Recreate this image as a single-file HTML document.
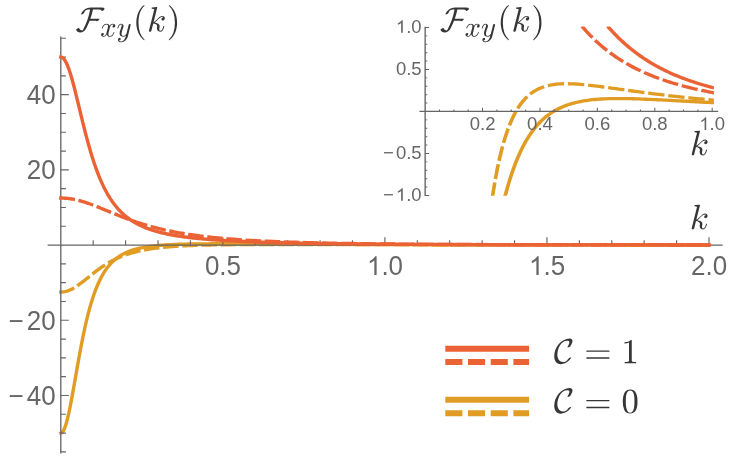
<!DOCTYPE html>
<html><head><meta charset="utf-8"><title>Berry curvature plot</title>
<style>
html,body{margin:0;padding:0;background:#fff;}
body{width:746px;height:464px;overflow:hidden;font-family:"Liberation Sans",sans-serif;}
svg{display:block;filter:blur(0.45px);}
</style></head><body>
<svg width="746" height="464" viewBox="0 0 746 464">
<rect width="746" height="464" fill="#fff"/>
<defs>
<path id="g0" d="M763 0H583V1147Q518 1085 412.5 1023T223 930V1104Q374 1175 487 1276T647 1472H763Z"/>
<path id="g1" d="M35 92Q35 128 93 162Q151 197 190 201H203Q210 197 236 154Q263 110 302 82Q340 53 410 53Q424 71 434 88Q581 360 684 643Q740 797 784 962Q829 1126 854 1278H768Q564 1278 510 1087Q490 1051 444 1024Q399 997 356 993H344Q330 1002 330 1014Q361 1123 452 1211Q544 1299 665 1349Q786 1399 899 1399H1499Q1698 1399 1698 1321Q1698 1276 1644 1240Q1590 1203 1538 1198H1528Q1513 1206 1513 1210Q1514 1216 1515 1223Q1516 1230 1516 1233Q1516 1278 1346 1278H1022Q964 991 872 737H1389Q1403 730 1403 719Q1390 670 1342 636Q1294 601 1241 596H1229Q1214 604 1214 612V616H827Q737 386 614 158Q563 67 469 -0Q375 -68 281 -68H270Q190 -68 126 -26Q62 17 35 92Z"/>
<path id="g2" d="M160 59Q196 31 262 31Q326 31 375 92Q424 154 442 227L535 590Q557 689 557 725Q557 776 528 814Q500 852 449 852Q384 852 327 812Q270 771 231 708Q192 646 176 582Q172 569 160 569H135Q119 569 119 588V594Q139 670 187 742Q235 815 304 860Q374 905 453 905Q528 905 588 865Q649 825 674 756Q709 819 764 862Q818 905 883 905Q927 905 973 890Q1019 874 1048 842Q1077 810 1077 762Q1077 710 1044 672Q1010 635 958 635Q925 635 903 656Q881 677 881 709Q881 752 910 784Q940 817 981 823Q944 852 879 852Q813 852 764 791Q716 730 696 655L606 293Q584 211 584 158Q584 106 614 68Q643 31 692 31Q788 31 864 116Q939 200 963 301Q967 313 979 313H1004Q1012 313 1017 308Q1022 302 1022 295Q1022 293 1020 289Q991 167 898 72Q805 -23 688 -23Q613 -23 552 18Q492 58 467 127Q435 67 378 22Q322 -23 258 -23Q214 -23 168 -8Q121 8 92 40Q63 72 63 121Q63 169 96 208Q130 248 180 248Q214 248 237 228Q260 207 260 174Q260 131 232 99Q203 67 160 59Z"/>
<path id="g3" d="M172 -293Q215 -367 322 -367Q419 -367 490 -299Q561 -231 604 -134Q648 -38 672 63Q581 -23 475 -23Q394 -23 337 5Q280 33 248 88Q217 144 217 223Q217 290 235 360Q253 431 286 518Q318 604 342 668Q369 743 369 791Q369 852 324 852Q243 852 190 768Q138 685 113 582Q109 569 96 569H72Q55 569 55 588V594Q88 716 156 810Q224 905 328 905Q401 905 452 857Q502 809 502 735Q502 697 485 655Q476 630 444 546Q412 462 395 407Q378 352 367 299Q356 246 356 193Q356 125 385 78Q414 31 477 31Q604 31 705 186L860 817Q867 844 892 864Q917 883 946 883Q971 883 990 867Q1008 851 1008 825Q1008 813 1006 809L803 -6Q776 -111 704 -207Q632 -303 530 -362Q429 -420 319 -420Q266 -420 214 -400Q162 -379 130 -338Q98 -297 98 -242Q98 -186 131 -145Q164 -104 219 -104Q252 -104 274 -124Q297 -145 297 -178Q297 -225 262 -260Q227 -295 180 -295Q178 -294 176 -294Q174 -293 172 -293Z"/>
<path id="g4" d="M635 -508Q521 -418 438 -302Q356 -185 304 -53Q251 79 225 223Q199 367 199 512Q199 659 225 803Q251 947 304 1080Q358 1213 441 1329Q524 1445 635 1532Q635 1536 645 1536H664Q670 1536 675 1530Q680 1525 680 1518Q680 1509 676 1505Q576 1407 510 1295Q443 1183 402 1056Q362 930 344 794Q326 659 326 512Q326 -139 674 -477Q680 -483 680 -494Q680 -499 674 -506Q669 -512 664 -512H645Q635 -512 635 -508Z"/>
<path id="g5" d="M109 37Q109 49 111 55L408 1239Q416 1274 418 1294Q418 1327 285 1327Q264 1327 264 1354Q265 1359 268 1372Q272 1385 278 1392Q283 1399 293 1399L569 1421H575Q575 1419 582 1416Q589 1412 590 1411Q594 1401 594 1395L379 539Q453 570 566 686Q678 803 742 854Q805 905 901 905Q958 905 998 866Q1038 827 1038 770Q1038 734 1023 704Q1008 673 981 654Q954 635 918 635Q885 635 862 656Q840 676 840 709Q840 758 874 792Q909 825 958 825Q938 852 897 852Q836 852 780 817Q723 782 658 716Q592 651 538 596Q484 542 438 514Q559 500 648 450Q737 401 737 299Q737 278 729 246Q711 169 711 123Q711 31 774 31Q848 31 886 112Q925 193 950 301Q954 313 967 313H991Q999 313 1004 308Q1010 303 1010 295Q1010 293 1008 289Q931 -23 770 -23Q712 -23 668 4Q623 31 599 78Q575 124 575 182Q575 215 584 250Q590 274 590 295Q590 374 520 415Q450 456 360 465L256 47Q248 16 225 -4Q202 -23 172 -23Q146 -23 128 -6Q109 12 109 37Z"/>
<path id="g6" d="M133 -512Q115 -512 115 -494Q115 -485 119 -481Q469 -139 469 512Q469 1163 123 1501Q115 1506 115 1518Q115 1525 120 1530Q126 1536 133 1536H152Q158 1536 162 1532Q309 1416 407 1250Q505 1084 550 896Q596 708 596 512Q596 367 572 226Q547 86 494 -50Q440 -187 358 -302Q276 -418 162 -508Q158 -512 152 -512Z"/>
<path id="g7" d="M403 -49Q306 -49 234 -12Q163 26 116 94Q68 161 46 242Q25 323 25 416Q25 599 92 786Q160 972 282 1120Q404 1269 572 1356Q739 1444 932 1444H944Q1011 1444 1052 1410Q1094 1376 1094 1311Q1094 1254 1061 1177Q1028 1100 981 1016Q959 979 914 952Q870 925 823 920H813Q799 927 799 934Q799 943 832 1007Q864 1071 888 1128Q911 1184 911 1225Q911 1275 880 1299Q848 1323 795 1323Q644 1323 542 1251Q439 1179 356 1038Q287 919 247 780Q207 642 207 504Q207 391 243 292Q279 192 357 132Q435 72 553 72Q677 72 774 164Q787 178 828 232Q868 285 903 310Q938 335 993 340H1004Q1018 333 1018 324Q1018 316 1012 307Q954 211 856 129Q758 47 641 -1Q524 -49 416 -49Z"/>
<path id="g8" d="M154 272Q137 272 126 285Q115 298 115 313Q115 330 126 342Q137 354 154 354H1440Q1455 354 1466 342Q1477 330 1477 313Q1477 298 1466 285Q1455 272 1440 272ZM154 670Q137 670 126 682Q115 694 115 711Q115 726 126 739Q137 752 154 752H1440Q1455 752 1466 739Q1477 726 1477 711Q1477 694 1466 682Q1455 670 1440 670Z"/>
<path id="g9" d="M190 0V72Q446 72 446 137V1212Q340 1161 178 1161V1233Q429 1233 557 1364H586Q593 1364 600 1358Q606 1353 606 1346V137Q606 72 862 72V0Z"/>
<path id="g10" d="M512 -45Q261 -45 170 162Q80 368 80 653Q80 831 112 988Q145 1145 242 1254Q338 1364 512 1364Q647 1364 733 1298Q819 1232 864 1128Q909 1023 926 904Q942 784 942 653Q942 477 910 324Q877 170 782 62Q687 -45 512 -45ZM512 8Q626 8 682 125Q738 242 751 384Q764 526 764 686Q764 840 751 970Q738 1100 682 1206Q627 1311 512 1311Q396 1311 340 1205Q284 1099 271 970Q258 840 258 686Q258 572 264 471Q269 370 293 262Q317 155 370 82Q424 8 512 8Z"/>
<clipPath id="ic"><rect x="400" y="26.5" width="287.65" height="169.3"/></clipPath>
</defs>
<g fill="none" stroke-width="3.4" stroke-linejoin="round">
<path d="M60.80 433.05L62.16 432.42L63.52 430.55L64.89 427.51L66.25 423.37L67.61 418.27L68.97 412.35L70.33 405.74L71.69 398.63L73.06 391.14L74.42 383.43L75.78 375.63L77.14 367.85L78.50 360.19L79.86 352.72L81.23 345.50L82.59 338.58L83.95 331.99L85.31 325.75L86.67 319.87L88.04 314.35L89.40 309.19L90.76 304.38L92.12 299.90L93.48 295.74L94.84 291.89L96.21 288.32L97.57 285.02L98.93 281.97L100.29 279.15L101.65 276.55L103.01 274.15L104.38 271.93L105.74 269.88L107.10 267.99L108.46 266.25L109.82 264.64L111.19 263.15L112.55 261.77L113.91 260.50L115.27 259.33L116.63 258.24L117.99 257.23L119.36 256.30L120.72 255.43L122.08 254.63L123.44 253.88L124.80 253.19L126.16 252.55L127.53 251.96L128.89 251.40L130.25 250.89L131.61 250.41L132.97 249.96L134.34 249.54L135.70 249.15L137.06 248.79L138.42 248.46L139.78 248.14L141.14 247.85L142.51 247.57L143.87 247.32L145.23 247.08L146.59 246.86L147.95 246.65L149.31 246.45L150.68 246.27L152.04 246.10L153.40 245.94L154.76 245.79L156.12 245.65L157.49 245.52L158.85 245.40L160.21 245.28L161.57 245.18L162.93 245.08L164.29 244.98L165.66 244.89L167.02 244.81L168.38 244.73L169.74 244.66L171.10 244.60L172.46 244.53L173.83 244.47L175.19 244.42L176.55 244.37L177.91 244.32L179.27 244.28L180.64 244.23L182.00 244.20L183.36 244.16L184.72 244.13L186.08 244.10L187.44 244.07L188.81 244.04L190.17 244.02L191.53 243.99L192.89 243.97L194.25 243.95L195.61 243.94L196.98 243.92L198.34 243.90L199.70 243.89L201.06 243.88L202.42 243.87L203.79 243.86L205.15 243.85L206.51 243.84L207.87 243.84L209.23 243.83L210.59 243.82L211.96 243.82L213.32 243.82L214.68 243.81L216.04 243.81L217.40 243.81L218.76 243.81L220.13 243.81L221.49 243.81L222.85 243.81L228.44 243.82L234.03 243.83L239.61 243.85L245.20 243.87L250.79 243.90L256.38 243.92L261.97 243.95L267.55 243.98L273.14 244.01L278.73 244.04L284.32 244.08L289.91 244.11L295.49 244.14L301.08 244.17L306.67 244.20L312.26 244.23L317.84 244.25L323.43 244.28L329.02 244.31L334.61 244.34L340.20 244.36L345.78 244.38L351.37 244.41L356.96 244.43L362.55 244.45L368.14 244.48L373.72 244.50L379.31 244.52L384.90 244.53L414.36 244.63L443.83 244.70L473.29 244.76L502.75 244.81L532.22 244.85L561.68 244.88L591.15 244.91L620.61 244.93L650.07 244.95L679.54 244.96L709.00 244.97" stroke="#E19C24" stroke-linecap="square"/>
<path d="M59.10 292.11L60.80 292.05L62.16 292.00L63.52 291.86L64.89 291.62L66.25 291.30L67.61 290.88L68.97 290.38L70.33 289.80L71.69 289.14L73.06 288.41L74.42 287.62L75.78 286.77L77.14 285.87L78.50 284.93L79.86 283.94L81.23 282.93L82.59 281.88L83.95 280.82L85.31 279.74L86.67 278.65L88.04 277.56L89.40 276.46L90.76 275.37L92.12 274.29L93.48 273.22L94.84 272.17L96.21 271.13L97.57 270.12L98.93 269.12L100.29 268.15L101.65 267.20L103.01 266.28L104.38 265.39L105.74 264.52L107.10 263.68L108.46 262.87L109.82 262.09L111.19 261.33L112.55 260.60L113.91 259.90L115.27 259.23L116.63 258.58L117.99 257.96L119.36 257.36L120.72 256.79L122.08 256.24L123.44 255.71L124.80 255.21L126.16 254.72L127.53 254.26L128.89 253.82L130.25 253.40L131.61 252.99L132.97 252.61L134.34 252.24L135.70 251.88L137.06 251.54L138.42 251.22L139.78 250.91L141.14 250.62L142.51 250.34L143.87 250.07L145.23 249.81L146.59 249.57L147.95 249.33L149.31 249.11L150.68 248.90L152.04 248.69L153.40 248.50L154.76 248.31L156.12 248.13L157.49 247.96L158.85 247.80L160.21 247.65L161.57 247.50L162.93 247.36L164.29 247.22L165.66 247.09L167.02 246.97L168.38 246.85L169.74 246.74L171.10 246.63L172.46 246.53L173.83 246.43L175.19 246.34L176.55 246.25L177.91 246.16L179.27 246.08L180.64 246.00L182.00 245.93L183.36 245.86L184.72 245.79L186.08 245.72L187.44 245.66L188.81 245.60L190.17 245.54L191.53 245.49L192.89 245.44L194.25 245.39L195.61 245.34L196.98 245.30L198.34 245.25L199.70 245.21L201.06 245.17L202.42 245.13L203.79 245.10L205.15 245.06L206.51 245.03L207.87 245.00L209.23 244.97L210.59 244.94L211.96 244.92L213.32 244.89L214.68 244.87L216.04 244.84L217.40 244.82L218.76 244.80L220.13 244.78L221.49 244.76L222.85 244.74L228.44 244.68L234.03 244.62L239.61 244.58L245.20 244.55L250.79 244.52L256.38 244.50L261.97 244.49L267.55 244.48L273.14 244.48L278.73 244.47L284.32 244.47L289.91 244.48L295.49 244.48L301.08 244.49L306.67 244.50L312.26 244.51L317.84 244.52L323.43 244.53L329.02 244.54L334.61 244.55L340.20 244.56L345.78 244.57L351.37 244.58L356.96 244.60L362.55 244.61L368.14 244.62L373.72 244.63L379.31 244.64L384.90 244.66L414.36 244.71L443.83 244.76L473.29 244.81L502.75 244.84L532.22 244.87L561.68 244.90L591.15 244.92L620.61 244.94L650.07 244.96L679.54 244.97L709.00 244.98" stroke="#E19C24" stroke-dasharray="17.05 3.6 15.6 3.6 15.6 3.6 15.6 3.6 15.6 3.6 15.6 3.6 15.6 3.6 15.6 3.6 15.6 3.6 15.6 3.6 15.6 3.6 15.6 3.6 15.6 3.6 15.6 3.6 15.6 3.6 15.6 3.6 15.6 3.6 15.6 3.6 15.6 3.6 15.6 3.6 15.6 3.6 15.6 3.6 15.6 3.6 15.6 3.6 15.6 3.6 15.6 3.6 15.6 3.6 15.6 3.6 15.6 3.6 15.6 3.6 15.6 3.6 15.6 3.6 15.6 3.6 15.6 3.6 15.6 3.6 15.6 3.6 15.6 3.6 15.6 3.6 15.6 3.6 15.6 3.6 15.6 3.6 15.6 3.6 15.6 3.6 15.6 3.6 15.6 3.6 15.6 3.6" stroke-dashoffset="1.1"/>
</g>
<g fill="none" stroke-width="3.3" stroke-linejoin="round" transform="translate(425.15 0) scale(1.1 1) translate(-425.15 0)">
<path d="M497.97 195.45L500.00 187.31L502.04 179.83L504.07 172.97L506.11 166.66L508.14 160.87L510.18 155.55L512.21 150.66L514.25 146.17L516.28 142.04L518.32 138.25L520.35 134.76L522.38 131.56L524.42 128.61L526.45 125.91L528.49 123.42L530.52 121.14L532.56 119.04L534.59 117.12L536.63 115.35L538.66 113.73L540.70 112.24L542.73 110.87L544.77 109.62L546.80 108.48L548.84 107.43L550.87 106.47L552.91 105.60L554.94 104.80L556.98 104.08L559.01 103.42L561.05 102.82L563.08 102.27L565.12 101.78L567.15 101.34L569.18 100.94L571.22 100.59L573.25 100.27L575.29 99.98L577.32 99.73L579.36 99.51L581.39 99.32L583.43 99.16L585.46 99.02L587.50 98.90L589.53 98.80L591.57 98.72L593.60 98.66L595.64 98.61L597.67 98.58L599.71 98.57L601.74 98.57L603.78 98.57L605.81 98.59L607.85 98.62L609.88 98.66L611.91 98.71L613.95 98.77L615.98 98.83L618.02 98.90L620.05 98.97L622.09 99.05L624.12 99.14L626.16 99.23L628.19 99.33L630.23 99.42L632.26 99.53L634.30 99.63L636.33 99.74L638.37 99.85L640.40 99.96L642.44 100.07L644.47 100.19L646.51 100.31L648.54 100.42L650.58 100.54L652.61 100.66L654.64 100.78L656.68 100.90L658.71 101.02L660.75 101.15L662.78 101.27L664.82 101.39L666.85 101.51L668.89 101.63L670.92 101.75L672.96 101.87L674.99 101.99L677.03 102.11L679.06 102.23L681.10 102.35L683.13 102.46L685.17 102.58L687.20 102.70L689.24 102.81" stroke="#E19C24" stroke-linecap="square" clip-path="url(#ic)"/>
<path d="M486.25 197.08L486.50 195.45L488.66 181.07L490.81 168.53L492.97 157.56L495.13 147.96L497.28 139.55L499.44 132.18L501.60 125.71L503.75 120.04L505.91 115.06L508.07 110.69L510.22 106.85L512.38 103.49L514.54 100.54L516.69 97.97L518.85 95.71L521.01 93.75L523.16 92.04L525.32 90.57L527.48 89.29L529.64 88.19L531.79 87.26L533.95 86.47L536.11 85.80L538.26 85.25L540.42 84.80L542.58 84.45L544.73 84.17L546.89 83.97L549.05 83.83L551.20 83.75L553.36 83.72L555.52 83.74L557.67 83.80L559.83 83.89L561.99 84.02L564.14 84.18L566.30 84.36L568.46 84.56L570.61 84.79L572.77 85.03L574.93 85.29L577.08 85.56L579.24 85.84L581.40 86.14L583.55 86.44L585.71 86.75L587.87 87.06L590.02 87.38L592.18 87.71L594.34 88.03L596.49 88.36L598.65 88.69L600.81 89.02L602.97 89.36L605.12 89.69L607.28 90.02L609.44 90.35L611.59 90.68L613.75 91.00L615.91 91.33L618.06 91.65L620.22 91.97L622.38 92.29L624.53 92.60L626.69 92.91L628.85 93.22L631.00 93.52L633.16 93.82L635.32 94.12L637.47 94.41L639.63 94.70L641.79 94.98L643.94 95.26L646.10 95.54L648.26 95.81L650.41 96.08L652.57 96.35L654.73 96.61L656.88 96.86L659.04 97.11L661.20 97.36L663.35 97.61L665.51 97.85L667.67 98.08L669.83 98.32L671.98 98.54L674.14 98.77L676.30 98.99L678.45 99.21L680.61 99.42L682.77 99.63L684.92 99.83L687.08 100.04L689.24 100.23" stroke="#E19C24" stroke-dasharray="14.9 3.5" stroke-dashoffset="0.05" clip-path="url(#ic)"/>
</g>
<g stroke="#666666" stroke-width="1.35" fill="none">
<path d="M47.6 245.05 H722.7"/>
<path d="M60.80 36.5 V453.6"/>
</g><g stroke="#666666" stroke-width="1.15" fill="none">
<path d="M93.21 245.05 v-4.90M125.62 245.05 v-4.90M158.03 245.05 v-4.90M190.44 245.05 v-4.90M222.85 245.05 v-7.90M255.26 245.05 v-4.90M287.67 245.05 v-4.90M320.08 245.05 v-4.90M352.49 245.05 v-4.90M384.90 245.05 v-7.90M417.31 245.05 v-4.90M449.72 245.05 v-4.90M482.13 245.05 v-4.90M514.54 245.05 v-4.90M546.95 245.05 v-7.90M579.36 245.05 v-4.90M611.77 245.05 v-4.90M644.18 245.05 v-4.90M676.59 245.05 v-4.90M709.00 245.05 v-7.90"/>
<path d="M60.80 451.85 h5.10M60.80 433.05 h5.10M60.80 414.25 h5.10M60.80 395.45 h8.00M60.80 376.65 h5.10M60.80 357.85 h5.10M60.80 339.05 h5.10M60.80 320.25 h8.00M60.80 301.45 h5.10M60.80 282.65 h5.10M60.80 263.85 h5.10M60.80 226.25 h5.10M60.80 207.45 h5.10M60.80 188.65 h5.10M60.80 169.85 h8.00M60.80 151.05 h5.10M60.80 132.25 h5.10M60.80 113.45 h5.10M60.80 94.65 h8.00M60.80 75.85 h5.10M60.80 57.05 h5.10M60.80 38.25 h5.10"/>
</g>
<g font-family="'Liberation Sans', sans-serif" fill="#666666">
<text transform="translate(204.88 274.95) scale(1.0000 1.0350)" font-size="26">0.5</text>
<use href="#g0" transform="translate(366.93 274.95) scale(0.01270 -0.01264)"/>
<text transform="translate(381.39 274.95) scale(1.0000 1.0350)" font-size="26">.0</text>
<use href="#g0" transform="translate(528.98 274.95) scale(0.01270 -0.01264)"/>
<text transform="translate(543.44 274.95) scale(1.0000 1.0350)" font-size="26">.5</text>
<text transform="translate(691.03 274.95) scale(1.0000 1.0350)" font-size="26">2.0</text>
<text transform="translate(26.70 104.00) scale(1.0000 1.0350)" font-size="26">40</text>
<text transform="translate(26.70 179.20) scale(1.0000 1.0350)" font-size="26">20</text>
<text transform="translate(8.72 329.60) scale(1.0000 1.0350)" font-size="26">−</text>
<text transform="translate(26.70 329.60) scale(1.0000 1.0350)" font-size="26">20</text>
<text transform="translate(8.72 404.80) scale(1.0000 1.0350)" font-size="26">−</text>
<text transform="translate(26.70 404.80) scale(1.0000 1.0350)" font-size="26">40</text>
</g>
<g stroke="#666666" stroke-width="1.25" fill="none" transform="translate(425.15 0) scale(1.1 1) translate(-425.15 0)">
<path d="M420.01 111.45 H691.56"/>
<path d="M425.15 26.85 V196.05"/>
</g><g stroke="#666666" stroke-width="0.95" fill="none" transform="translate(425.15 0) scale(1.1 1) translate(-425.15 0)">
<path d="M438.20 111.45 v-2.00M451.25 111.45 v-2.00M464.29 111.45 v-2.00M477.34 111.45 v-3.80M490.39 111.45 v-2.00M503.44 111.45 v-2.00M516.48 111.45 v-2.00M529.53 111.45 v-3.80M542.58 111.45 v-2.00M555.63 111.45 v-2.00M568.67 111.45 v-2.00M581.72 111.45 v-3.80M594.77 111.45 v-2.00M607.82 111.45 v-2.00M620.87 111.45 v-2.00M633.91 111.45 v-3.80M646.96 111.45 v-2.00M660.01 111.45 v-2.00M673.06 111.45 v-2.00M686.10 111.45 v-3.80"/>
<path d="M425.15 195.45 h3.60M425.15 187.05 h2.00M425.15 178.65 h2.00M425.15 170.25 h2.00M425.15 161.85 h2.00M425.15 153.45 h3.60M425.15 145.05 h2.00M425.15 136.65 h2.00M425.15 128.25 h2.00M425.15 119.85 h2.00M425.15 103.05 h2.00M425.15 94.65 h2.00M425.15 86.25 h2.00M425.15 77.85 h2.00M425.15 69.45 h3.60M425.15 61.05 h2.00M425.15 52.65 h2.00M425.15 44.25 h2.00M425.15 35.85 h2.00M425.15 27.45 h3.60"/>
</g>
<g font-family="'Liberation Sans', sans-serif" fill="#666666">
<text transform="translate(469.68 129.90) scale(1.0900 1.0700)" font-size="17">0.2</text>
<text transform="translate(527.09 129.90) scale(1.0900 1.0700)" font-size="17">0.4</text>
<text transform="translate(584.50 129.90) scale(1.0900 1.0700)" font-size="17">0.6</text>
<text transform="translate(641.91 129.90) scale(1.0900 1.0700)" font-size="17">0.8</text>
<use href="#g0" transform="translate(699.32 129.90) scale(0.00905 -0.00854)"/>
<text transform="translate(709.62 129.90) scale(1.0900 1.0700)" font-size="17">.0</text>
<use href="#g0" transform="translate(395.87 32.75) scale(0.00905 -0.00854)"/>
<text transform="translate(406.17 32.75) scale(1.0900 1.0700)" font-size="17">.0</text>
<text transform="translate(395.92 74.75) scale(1.0900 1.0700)" font-size="17">0.5</text>
<text transform="translate(383.10 158.75) scale(1.0900 1.0700)" font-size="17">−</text>
<text transform="translate(395.92 158.75) scale(1.0900 1.0700)" font-size="17">0.5</text>
<text transform="translate(383.04 200.75) scale(1.0900 1.0700)" font-size="17">−</text>
<use href="#g0" transform="translate(395.87 200.75) scale(0.00905 -0.00854)"/>
<text transform="translate(406.17 200.75) scale(1.0900 1.0700)" font-size="17">.0</text>
</g>
<g fill="none" stroke-width="3.4" stroke-linejoin="round">
<path d="M60.80 57.05L62.16 57.41L63.52 58.50L64.89 60.29L66.25 62.74L67.61 65.80L68.97 69.43L70.33 73.55L71.69 78.10L73.06 83.00L74.42 88.19L75.78 93.59L77.14 99.13L78.50 104.76L79.86 110.42L81.23 116.07L82.59 121.65L83.95 127.13L85.31 132.49L86.67 137.69L88.04 142.73L89.40 147.58L90.76 152.24L92.12 156.70L93.48 160.96L94.84 165.02L96.21 168.88L97.57 172.55L98.93 176.03L100.29 179.32L101.65 182.44L103.01 185.39L104.38 188.17L105.74 190.80L107.10 193.29L108.46 195.64L109.82 197.85L111.19 199.94L112.55 201.92L113.91 203.78L115.27 205.54L116.63 207.21L117.99 208.78L119.36 210.27L120.72 211.67L122.08 213.00L123.44 214.26L124.80 215.45L126.16 216.58L127.53 217.66L128.89 218.67L130.25 219.64L131.61 220.55L132.97 221.42L134.34 222.25L135.70 223.04L137.06 223.79L138.42 224.50L139.78 225.18L141.14 225.83L142.51 226.45L143.87 227.04L145.23 227.60L146.59 228.14L147.95 228.65L149.31 229.14L150.68 229.62L152.04 230.07L153.40 230.50L154.76 230.91L156.12 231.31L157.49 231.69L158.85 232.06L160.21 232.41L161.57 232.75L162.93 233.08L164.29 233.39L165.66 233.69L167.02 233.98L168.38 234.26L169.74 234.53L171.10 234.79L172.46 235.04L173.83 235.28L175.19 235.52L176.55 235.74L177.91 235.96L179.27 236.17L180.64 236.37L182.00 236.57L183.36 236.76L184.72 236.95L186.08 237.13L187.44 237.30L188.81 237.47L190.17 237.63L191.53 237.79L192.89 237.94L194.25 238.09L195.61 238.24L196.98 238.38L198.34 238.51L199.70 238.64L201.06 238.77L202.42 238.90L203.79 239.02L205.15 239.14L206.51 239.25L207.87 239.37L209.23 239.48L210.59 239.58L211.96 239.68L213.32 239.79L214.68 239.88L216.04 239.98L217.40 240.07L218.76 240.16L220.13 240.25L221.49 240.34L222.85 240.42L228.44 240.75L234.03 241.05L239.61 241.32L245.20 241.56L250.79 241.79L256.38 242.00L261.97 242.19L267.55 242.36L273.14 242.53L278.73 242.68L284.32 242.82L289.91 242.94L295.49 243.06L301.08 243.18L306.67 243.28L312.26 243.38L317.84 243.47L323.43 243.55L329.02 243.63L334.61 243.71L340.20 243.78L345.78 243.84L351.37 243.90L356.96 243.96L362.55 244.01L368.14 244.07L373.72 244.11L379.31 244.16L384.90 244.20L414.36 244.39L443.83 244.53L473.29 244.63L502.75 244.72L532.22 244.78L561.68 244.83L591.15 244.87L620.61 244.90L650.07 244.92L679.54 244.94L709.00 244.96" stroke="#EB6235" stroke-linecap="square"/>
<path d="M59.10 198.04L60.80 198.05L62.16 198.06L63.52 198.11L64.89 198.18L66.25 198.28L67.61 198.41L68.97 198.57L70.33 198.75L71.69 198.96L73.06 199.20L74.42 199.46L75.78 199.75L77.14 200.06L78.50 200.40L79.86 200.75L81.23 201.13L82.59 201.52L83.95 201.94L85.31 202.37L86.67 202.82L88.04 203.28L89.40 203.76L90.76 204.25L92.12 204.75L93.48 205.27L94.84 205.79L96.21 206.32L97.57 206.86L98.93 207.41L100.29 207.96L101.65 208.51L103.01 209.07L104.38 209.63L105.74 210.20L107.10 210.76L108.46 211.33L109.82 211.89L111.19 212.45L112.55 213.01L113.91 213.57L115.27 214.13L116.63 214.68L117.99 215.23L119.36 215.77L120.72 216.31L122.08 216.84L123.44 217.37L124.80 217.89L126.16 218.40L127.53 218.91L128.89 219.41L130.25 219.90L131.61 220.39L132.97 220.87L134.34 221.34L135.70 221.81L137.06 222.26L138.42 222.71L139.78 223.15L141.14 223.59L142.51 224.02L143.87 224.43L145.23 224.84L146.59 225.25L147.95 225.64L149.31 226.03L150.68 226.41L152.04 226.78L153.40 227.15L154.76 227.51L156.12 227.86L157.49 228.20L158.85 228.54L160.21 228.87L161.57 229.19L162.93 229.51L164.29 229.82L165.66 230.12L167.02 230.42L168.38 230.71L169.74 230.99L171.10 231.27L172.46 231.54L173.83 231.81L175.19 232.07L176.55 232.33L177.91 232.58L179.27 232.82L180.64 233.06L182.00 233.29L183.36 233.52L184.72 233.74L186.08 233.96L187.44 234.18L188.81 234.39L190.17 234.59L191.53 234.79L192.89 234.99L194.25 235.18L195.61 235.37L196.98 235.55L198.34 235.73L199.70 235.91L201.06 236.08L202.42 236.25L203.79 236.41L205.15 236.57L206.51 236.73L207.87 236.89L209.23 237.04L210.59 237.18L211.96 237.33L213.32 237.47L214.68 237.61L216.04 237.75L217.40 237.88L218.76 238.01L220.13 238.14L221.49 238.26L222.85 238.38L228.44 238.86L234.03 239.29L239.61 239.69L245.20 240.06L250.79 240.40L256.38 240.71L261.97 241.00L267.55 241.27L273.14 241.51L278.73 241.74L284.32 241.95L289.91 242.14L295.49 242.32L301.08 242.49L306.67 242.65L312.26 242.79L317.84 242.92L323.43 243.05L329.02 243.16L334.61 243.27L340.20 243.37L345.78 243.47L351.37 243.56L356.96 243.64L362.55 243.71L368.14 243.79L373.72 243.85L379.31 243.92L384.90 243.98L414.36 244.23L443.83 244.42L473.29 244.56L502.75 244.66L532.22 244.74L561.68 244.80L591.15 244.84L620.61 244.88L650.07 244.91L679.54 244.93L709.00 244.95" stroke="#EB6235" stroke-dasharray="17.05 3.6 15.6 3.6 15.6 3.6 15.6 3.6 15.6 3.6 15.6 3.6 15.6 3.6 15.6 3.6 15.6 3.6 15.6 3.6 15.6 3.6 15.6 3.6 15.6 3.6 15.6 3.6 15.6 3.6 15.6 3.6 15.6 3.6 15.6 3.6 15.6 3.6 15.6 3.6 15.6 3.6 15.6 3.6 15.6 3.6 15.6 3.6 15.6 3.6 15.6 3.6 15.6 3.6 15.6 3.6 15.6 3.6 15.6 3.6 15.6 3.6 15.6 3.6 15.6 3.6 15.6 3.6 15.6 3.6 15.6 3.6 15.6 3.6 15.6 3.6 15.6 3.6 15.6 3.6 15.6 3.6 15.6 3.6 15.6 3.6 15.6 3.6 15.6 3.6 15.6 3.6" stroke-dashoffset="1.1"/>
</g>
<g fill="none" stroke-width="3.3" stroke-linejoin="round" transform="translate(425.15 0) scale(1.1 1) translate(-425.15 0)">
<path d="M592.02 27.45L593.06 28.74L594.09 30.01L595.13 31.25L596.16 32.47L597.19 33.67L598.23 34.85L599.26 36.01L600.30 37.14L601.33 38.26L602.36 39.36L603.40 40.43L604.43 41.49L605.47 42.53L606.50 43.55L607.54 44.56L608.57 45.54L609.60 46.51L610.64 47.46L611.67 48.40L612.71 49.32L613.74 50.22L614.77 51.11L615.81 51.99L616.84 52.84L617.88 53.69L618.91 54.52L619.95 55.33L620.98 56.13L622.01 56.92L623.05 57.70L624.08 58.46L625.12 59.21L626.15 59.94L627.19 60.67L628.22 61.38L629.25 62.08L630.29 62.77L631.32 63.45L632.36 64.11L633.39 64.77L634.42 65.41L635.46 66.05L636.49 66.67L637.53 67.28L638.56 67.89L639.60 68.48L640.63 69.06L641.66 69.64L642.70 70.21L643.73 70.76L644.77 71.31L645.80 71.85L646.83 72.38L647.87 72.90L648.90 73.41L649.94 73.92L650.97 74.42L652.01 74.91L653.04 75.39L654.07 75.86L655.11 76.33L656.14 76.79L657.18 77.24L658.21 77.69L659.24 78.12L660.28 78.56L661.31 78.98L662.35 79.40L663.38 79.81L664.42 80.22L665.45 80.62L666.48 81.01L667.52 81.40L668.55 81.78L669.59 82.16L670.62 82.53L671.65 82.89L672.69 83.25L673.72 83.60L674.76 83.95L675.79 84.30L676.83 84.63L677.86 84.97L678.89 85.30L679.93 85.62L680.96 85.94L682.00 86.25L683.03 86.56L684.07 86.86L685.10 87.16L686.13 87.46L687.17 87.75L688.20 88.04L689.24 88.32" stroke="#EB6235" stroke-linecap="square" clip-path="url(#ic)"/>
<path d="M567.63 26.15L568.65 27.45L569.93 29.09L571.22 30.68L572.50 32.24L573.78 33.76L575.06 35.23L576.35 36.68L577.63 38.09L578.91 39.46L580.20 40.80L581.48 42.11L582.76 43.39L584.04 44.63L585.33 45.85L586.61 47.04L587.89 48.21L589.18 49.34L590.46 50.45L591.74 51.54L593.02 52.60L594.31 53.64L595.59 54.65L596.87 55.65L598.16 56.62L599.44 57.57L600.72 58.49L602.00 59.40L603.29 60.29L604.57 61.16L605.85 62.02L607.13 62.85L608.42 63.67L609.70 64.47L610.98 65.25L612.27 66.02L613.55 66.77L614.83 67.51L616.11 68.23L617.40 68.94L618.68 69.63L619.96 70.31L621.25 70.97L622.53 71.63L623.81 72.26L625.09 72.89L626.38 73.51L627.66 74.11L628.94 74.70L630.23 75.28L631.51 75.85L632.79 76.41L634.07 76.95L635.36 77.49L636.64 78.02L637.92 78.53L639.21 79.04L640.49 79.54L641.77 80.03L643.05 80.50L644.34 80.98L645.62 81.44L646.90 81.89L648.19 82.34L649.47 82.77L650.75 83.20L652.03 83.62L653.32 84.04L654.60 84.44L655.88 84.84L657.17 85.23L658.45 85.62L659.73 86.00L661.01 86.37L662.30 86.73L663.58 87.09L664.86 87.45L666.15 87.79L667.43 88.13L668.71 88.47L669.99 88.79L671.28 89.12L672.56 89.44L673.84 89.75L675.12 90.05L676.41 90.36L677.69 90.65L678.97 90.94L680.26 91.23L681.54 91.51L682.82 91.79L684.10 92.06L685.39 92.33L686.67 92.59L687.95 92.85L689.24 93.11" stroke="#EB6235" stroke-dasharray="14.9 3.5" stroke-dashoffset="18.25" clip-path="url(#ic)"/>
</g>
<g fill="#363636">
<use href="#g1" transform="translate(75.50 31.40) scale(0.01709 -0.01709)"/>
<use href="#g2" transform="translate(100.20 36.40) scale(0.01401 -0.01401)"/>
<use href="#g3" transform="translate(116.58 36.40) scale(0.01401 -0.01401)"/>
<use href="#g4" transform="translate(132.90 31.40) scale(0.01709 -0.01709)"/>
<use href="#g5" transform="translate(147.09 31.40) scale(0.01709 -0.01709)"/>
<use href="#g6" transform="translate(166.89 31.40) scale(0.01709 -0.01709)"/>
<use href="#g1" transform="translate(439.90 31.40) scale(0.01709 -0.01709)"/>
<use href="#g2" transform="translate(464.60 36.40) scale(0.01401 -0.01401)"/>
<use href="#g3" transform="translate(480.98 36.40) scale(0.01401 -0.01401)"/>
<use href="#g4" transform="translate(497.30 31.40) scale(0.01709 -0.01709)"/>
<use href="#g5" transform="translate(511.49 31.40) scale(0.01709 -0.01709)"/>
<use href="#g6" transform="translate(531.29 31.40) scale(0.01709 -0.01709)"/>
<use href="#g5" transform="translate(689.84 155.00) scale(0.01709 -0.01709)"/>
<use href="#g5" transform="translate(689.84 229.00) scale(0.01709 -0.01709)"/>
<use href="#g7" transform="translate(553.80 363.30) scale(0.01709 -0.01709)"/>
<use href="#g8" transform="translate(584.30 363.30) scale(0.01709 -0.01709)"/>
<use href="#g9" transform="translate(621.40 363.30) scale(0.01709 -0.01709)"/>
<use href="#g7" transform="translate(553.80 412.80) scale(0.01709 -0.01709)"/>
<use href="#g8" transform="translate(584.30 412.80) scale(0.01709 -0.01709)"/>
<use href="#g10" transform="translate(621.40 412.80) scale(0.01709 -0.01709)"/>
</g>
<path d="M445.3 348.75 H529.1" stroke="#EB6235" stroke-width="5.9" fill="none"/>
<path d="M445.3 362.00 H529.1" stroke="#EB6235" stroke-width="5.9" fill="none" stroke-dasharray="17.1 5.6"/>
<path d="M445.3 399.80 H529.1" stroke="#E19C24" stroke-width="5.9" fill="none"/>
<path d="M445.3 413.20 H529.1" stroke="#E19C24" stroke-width="5.9" fill="none" stroke-dasharray="17.1 5.6"/>
</svg>
</body></html>
